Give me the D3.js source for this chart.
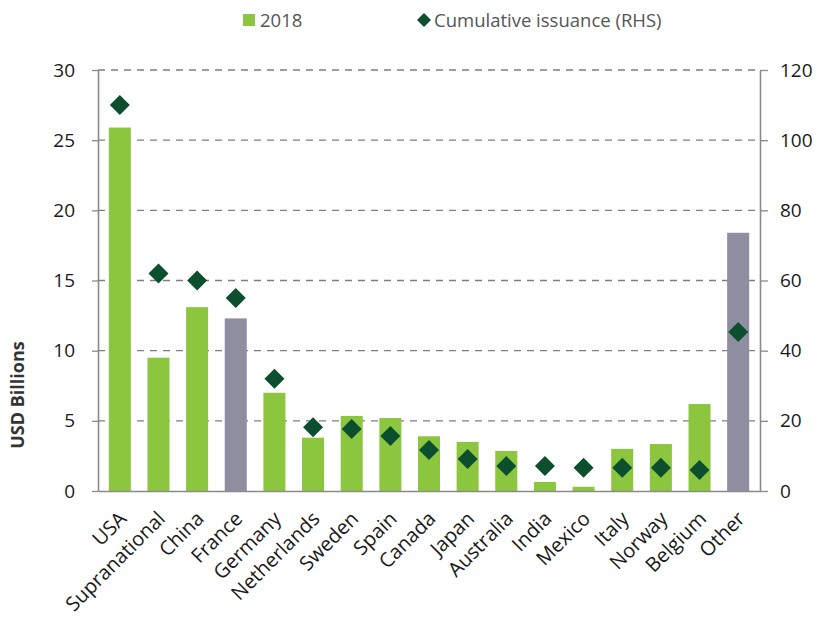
<!DOCTYPE html>
<html>
<head>
<meta charset="utf-8">
<script src="https://cdn.jsdelivr.net/npm/d3@7"></script>
<style>
  body { margin: 0; background: #fff; }
  text { font-family: "Open Sans", "Noto Sans", sans-serif; }
</style>
</head>
<body>
<div id="grafica"></div>
<script>
// datos
var countries = ["USA", "Supranational", "China", "France", "Germany", "Netherlands", "Sweden", "Spain",
  "Canada", "Japan", "Australia", "India", "Mexico", "Italy", "Norway", "Belgium", "Other"];
var issuance2018 = [25.9, 9.5, 13.1, 12.3, 7.0, 3.8, 5.35, 5.2, 3.9, 3.5, 2.85, 0.65, 0.3, 3.0, 3.35, 6.2, 18.4];
var cumulative = [110, 62, 60, 55, 32, 18.2, 17.7, 15.7, 11.7, 9.1, 7.1, 7.1, 6.6, 6.6, 6.6, 6.0, 45.3];
var greyBars = ["France", "Other"];
var leftTicks = [0, 5, 10, 15, 20, 25, 30];
var rightTicks = [0, 20, 40, 60, 80, 100, 120];

// dimensiones
var W = 823, H = 621;
var margin = {top: 70, right: 63, bottom: 130, left: 98},
width = W - margin.left - margin.right,
height = H - margin.top - margin.bottom;

var svg = d3.select("#grafica")
.append("svg")
.attr("width", W)
.attr("height", H);

var g = svg.append("g")
.attr("transform", "translate(" + margin.left + "," + margin.top + ")");

// escalas
var x = d3.scaleBand()
.domain(countries)
.range([0, width])
.paddingInner(0.43)
.paddingOuter(0.28);

var y = d3.scaleLinear().domain([0, 30]).range([height, 0]);
var y2 = d3.scaleLinear().domain([0, 120]).range([height, 0]);

// lineas de cuadricula
g.append("g")
.selectAll("line")
.data(leftTicks.filter(function(d) { return d > 0; }))
.enter()
.append("line")
.attr("x1", 0)
.attr("x2", width)
.attr("y1", function(d) { return y(d); })
.attr("y2", function(d) { return y(d); })
.attr("stroke", "#7f7f7f")
.attr("stroke-width", 1.4)
.attr("stroke-dasharray", "7,6");

// barras
g.selectAll(".bar")
.data(countries)
.enter()
.append("rect")
.attr("x", function(d) { return x(d); })
.attr("y", function(d, i) { return y(issuance2018[i]); })
.attr("width", x.bandwidth())
.attr("height", function(d, i) { return height - y(issuance2018[i]); })
.attr("fill", function(d) { return greyBars.indexOf(d) >= 0 ? "#8f8ea0" : "#8cc63f"; });

// ejes
function styleAxis(sel) {
  sel.select(".domain").attr("stroke", "#8a8a8a").attr("stroke-width", 1.6);
  sel.selectAll(".tick line").attr("stroke", "#8a8a8a").attr("stroke-width", 1.3);
  sel.selectAll(".tick text").attr("fill", "#1a1a1a").style("font-size", "19px");
}

var leftAxis = g.append("g")
.call(d3.axisLeft(y).tickValues(leftTicks).tickSize(6).tickSizeOuter(0).tickPadding(17));
styleAxis(leftAxis);

var rightAxis = g.append("g")
.attr("transform", "translate(" + width + ",0)")
.call(d3.axisRight(y2).tickValues(rightTicks).tickSize(8).tickSizeOuter(0).tickPadding(12));
styleAxis(rightAxis);

var bottomAxis = g.append("g")
.attr("transform", "translate(0," + height + ")")
.call(d3.axisBottom(x).tickSize(0));
bottomAxis.select(".domain").attr("stroke", "#8a8a8a").attr("stroke-width", 1.6);
bottomAxis.selectAll("text")
.attr("fill", "#1a1a1a")
.style("font-size", "20px")
.attr("x", 0)
.attr("y", 0)
.attr("dy", "0.35em")
.attr("transform", "translate(3,24)rotate(-45)")
.style("text-anchor", "end");

// diamantes
var half = 10;
var diamond = "M0," + (-half) + "L" + half + ",0L0," + half + "L" + (-half) + ",0Z";
g.selectAll(".dot")
.data(countries)
.enter()
.append("path")
.attr("d", diamond)
.attr("transform", function(d, i) {
  return "translate(" + (x(d) + x.bandwidth() / 2) + "," + y2(cumulative[i]) + ")";
})
.attr("fill", "#0b4f2f");

// titulo eje y
svg.append("text")
.attr("transform", "translate(24,395)rotate(-90)")
.attr("text-anchor", "middle")
.attr("font-weight", "bold")
.attr("fill", "#333")
.style("font-size", "18px")
.text("USD Billions");

// leyenda
var legend = svg.append("g");
legend.append("rect")
.attr("x", 243).attr("y", 14).attr("width", 12).attr("height", 12)
.attr("fill", "#8cc63f");
legend.append("text")
.attr("x", 260).attr("y", 27)
.attr("fill", "#555")
.style("font-size", "18.5px")
.text("2018");
legend.append("path")
.attr("d", "M0,-7L7,0L0,7L-7,0Z")
.attr("transform", "translate(424,20)")
.attr("fill", "#0b4f2f");
legend.append("text")
.attr("x", 434).attr("y", 27)
.attr("fill", "#555")
.style("font-size", "18.5px")
.text("Cumulative issuance (RHS)");
</script>
</body>
</html>
